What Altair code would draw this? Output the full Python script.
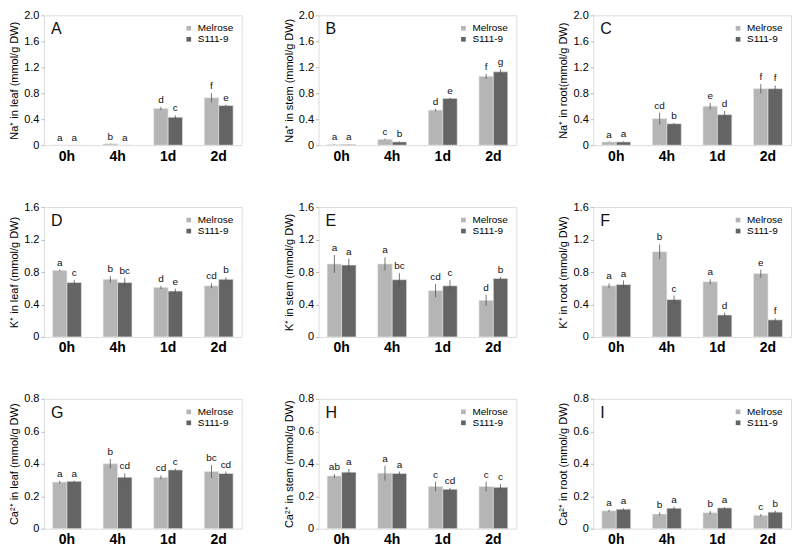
import altair as alt
import pandas as pd

times = ["0h", "4h", "1d", "2d"]
cultivars = ["Melrose", "S111-9"]
colors = ["#b5b5b5", "#646464"]

# A: Na+ in leaf
a_mel = [0.0, 0.02, 0.565, 0.73]
a_mel_err = [0.0, 0.005, 0.025, 0.07]
a_mel_let = ["a", "b", "d", "f"]
a_s11 = [0.0, 0.0, 0.43, 0.61]
a_s11_err = [0.0, 0.0, 0.03, 0.015]
a_s11_let = ["a", "a", "c", "e"]

# B: Na+ in stem
b_mel = [0.01, 0.09, 0.54, 1.06]
b_mel_err = [0.003, 0.01, 0.02, 0.04]
b_mel_let = ["a", "c", "d", "f"]
b_s11 = [0.01, 0.05, 0.72, 1.13]
b_s11_err = [0.003, 0.008, 0.012, 0.04]
b_s11_let = ["a", "b", "e", "g"]

# C: Na+ in root
c_mel = [0.05, 0.41, 0.60, 0.87]
c_mel_err = [0.005, 0.09, 0.05, 0.07]
c_mel_let = ["a", "cd", "e", "f"]
c_s11 = [0.05, 0.33, 0.47, 0.87]
c_s11_err = [0.008, 0.012, 0.06, 0.05]
c_s11_let = ["a", "b", "d", "f"]

# D: K+ in leaf
d_mel = [0.82, 0.71, 0.61, 0.63]
d_mel_err = [0.01, 0.04, 0.02, 0.03]
d_mel_let = ["a", "b", "d", "cd"]
d_s11 = [0.67, 0.67, 0.565, 0.71]
d_s11_err = [0.03, 0.06, 0.03, 0.025]
d_s11_let = ["c", "bc", "e", "b"]

# E: K+ in stem
e_mel = [0.90, 0.90, 0.57, 0.45]
e_mel_err = [0.11, 0.08, 0.08, 0.07]
e_mel_let = ["a", "a", "cd", "d"]
e_s11 = [0.885, 0.705, 0.63, 0.72]
e_s11_err = [0.08, 0.08, 0.07, 0.02]
e_s11_let = ["a", "bc", "c", "b"]

# F: K+ in root
f_mel = [0.63, 1.05, 0.68, 0.78]
f_mel_err = [0.03, 0.09, 0.03, 0.05]
f_mel_let = ["a", "b", "a", "e"]
f_s11 = [0.645, 0.46, 0.27, 0.21]
f_s11_err = [0.05, 0.05, 0.03, 0.02]
f_s11_let = ["a", "c", "d", "f"]

# G: Ca2+ in leaf
g_mel = [0.287, 0.40, 0.316, 0.352]
g_mel_err = [0.008, 0.03, 0.012, 0.04]
g_mel_let = ["a", "b", "cd", "bc"]
g_s11 = [0.292, 0.317, 0.362, 0.34]
g_s11_err = [0.004, 0.025, 0.008, 0.012]
g_s11_let = ["a", "cd", "c", "cd"]

# H: Ca2+ in stem
h_mel = [0.325, 0.342, 0.26, 0.26]
h_mel_err = [0.012, 0.045, 0.03, 0.03]
h_mel_let = ["ab", "a", "c", "c"]
h_s11 = [0.348, 0.34, 0.243, 0.255]
h_s11_err = [0.02, 0.012, 0.008, 0.02]
h_s11_let = ["a", "a", "cd", "c"]

# I: Ca2+ in root
i_mel = [0.11, 0.09, 0.098, 0.082]
i_mel_err = [0.007, 0.01, 0.01, 0.008]
i_mel_let = ["a", "b", "b", "c"]
i_s11 = [0.12, 0.126, 0.128, 0.102]
i_s11_err = [0.005, 0.01, 0.005, 0.01]
i_s11_let = ["a", "a", "a", "b"]

FONT = "Liberation Sans"
W, H = 198, 130


def panel(letter, title, ymax, ystep, mel, mel_err, mel_let, s11, s11_err, s11_let):
    rows = []
    for i, t in enumerate(times):
        rows.append(dict(time=t, cultivar="Melrose", value=mel[i], err=mel_err[i], label=mel_let[i]))
        rows.append(dict(time=t, cultivar="S111-9", value=s11[i], err=s11_err[i], label=s11_let[i]))
    df = pd.DataFrame(rows)
    df["lo"] = df["value"] - df["err"]
    df["hi"] = df["value"] + df["err"]
    n = int(round(ymax / ystep))
    ticks = [round(k * ystep, 2) for k in range(n + 1)]

    x = alt.X("time:N", sort=times,
              scale=alt.Scale(paddingInner=0.43, paddingOuter=0.17),
              axis=alt.Axis(title=None, labelAngle=0, labelFontSize=14, labelFontWeight="bold",
                            ticks=False, domain=False, labelPadding=4))
    xo = alt.XOffset("cultivar:N", sort=cultivars, scale=alt.Scale(paddingInner=0, paddingOuter=0))
    yscale = alt.Scale(domain=[0, ymax], nice=False)
    yaxis = alt.Axis(title=title, values=ticks, grid=False, domain=False,
                     tickSize=3, tickColor="#bbbbbb", labelOverlap=False,
                     labelExpr="datum.value == 0 ? '0' : format(datum.value, '.1f')",
                     labelFontSize=11, titleFontSize=11, titlePadding=4,
                     titleFontWeight="normal")
    base = alt.Chart(df)
    bars = base.mark_bar(stroke="#e6e6e6", strokeWidth=0.6).encode(
        x=x, xOffset=xo, y=alt.Y("value:Q", scale=yscale, axis=yaxis),
        color=alt.Color("cultivar:N", sort=cultivars,
                        scale=alt.Scale(domain=cultivars, range=colors),
                        legend=alt.Legend(title=None, orient="top-right", symbolType="square",
                                          symbolSize=22, symbolStrokeWidth=0, labelFontSize=10,
                                          labelFont=FONT, offset=6, rowPadding=1, padding=2)))
    errs = base.mark_rule(color="#555555", strokeWidth=0.8).encode(
        x=x, xOffset=xo, y=alt.Y("lo:Q", scale=yscale, axis=yaxis), y2="hi:Q")
    txt = base.mark_text(fontSize=10, baseline="bottom", dy=-2, font=FONT, color="#111111").encode(
        x=x, xOffset=xo, y=alt.Y("hi:Q", scale=yscale, axis=yaxis), text="label:N")
    tag = alt.Chart(pd.DataFrame({"t": [letter]})).mark_text(
        align="left", baseline="top", fontSize=16, font=FONT, x=7, y=6, color="#111111"
    ).encode(text="t:N")
    return alt.layer(bars, errs, txt, tag).properties(width=W, height=H)


pA = panel("A", "Na\u207a in leaf (mmol/g DW)", 2.0, 0.4, a_mel, a_mel_err, a_mel_let, a_s11, a_s11_err, a_s11_let)
pB = panel("B", "Na\u207a in stem (mmol/g DW)", 2.0, 0.4, b_mel, b_mel_err, b_mel_let, b_s11, b_s11_err, b_s11_let)
pC = panel("C", "Na\u207a in root(mmol/g DW)", 2.0, 0.4, c_mel, c_mel_err, c_mel_let, c_s11, c_s11_err, c_s11_let)
pD = panel("D", "K\u207a in leaf (mmol/g DW)", 1.6, 0.4, d_mel, d_mel_err, d_mel_let, d_s11, d_s11_err, d_s11_let)
pE = panel("E", "K\u207a in stem (mmol/g DW)", 1.6, 0.4, e_mel, e_mel_err, e_mel_let, e_s11, e_s11_err, e_s11_let)
pF = panel("F", "K\u207a in root (mmol/g DW)", 1.6, 0.4, f_mel, f_mel_err, f_mel_let, f_s11, f_s11_err, f_s11_let)
pG = panel("G", "Ca\u00b2\u207a in leaf (mmol/g DW)", 0.8, 0.2, g_mel, g_mel_err, g_mel_let, g_s11, g_s11_err, g_s11_let)
pH = panel("H", "Ca\u00b2\u207a in stem (mmol/g DW)", 0.8, 0.2, h_mel, h_mel_err, h_mel_let, h_s11, h_s11_err, h_s11_let)
pI = panel("I", "Ca\u00b2\u207a in root (mmol/g DW)", 0.8, 0.2, i_mel, i_mel_err, i_mel_let, i_s11, i_s11_err, i_s11_let)


def row(a, b, c):
    return alt.hconcat(a, b, c, spacing=40).resolve_scale(color="independent").resolve_legend(color="independent")


chart = alt.vconcat(row(pA, pB, pC), row(pD, pE, pF), row(pG, pH, pI), spacing=36).resolve_scale(
    color="independent").resolve_legend(color="independent").properties(
    padding={"top": 0, "left": 0, "right": 0, "bottom": 0}
).configure_view(stroke="#a8a8a8", strokeWidth=1).configure_axis(
    labelFont=FONT, titleFont=FONT, labelColor="#222222", titleColor="#222222"
).configure(background="white")

chart.save("out.html", embed_options={"renderer": "svg", "actions": False})
